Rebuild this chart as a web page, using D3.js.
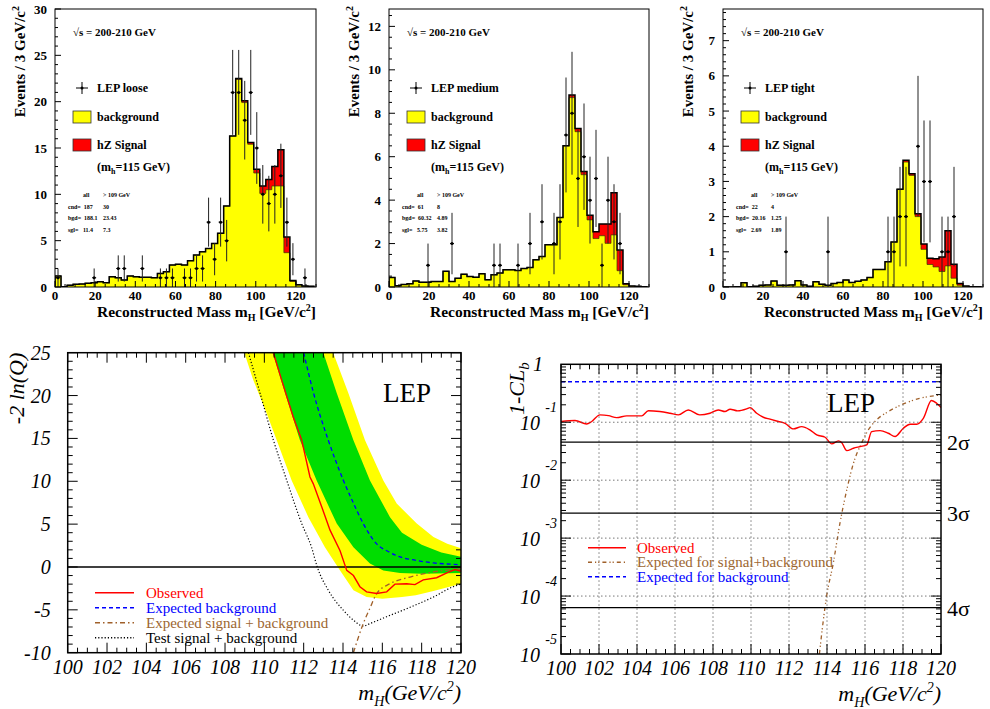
<!DOCTYPE html>
<html><head><meta charset="utf-8">
<script src="https://cdn.jsdelivr.net/npm/d3@7"></script>
<style>
body{margin:0;background:#fff;}
svg{display:block;}
text{font-family:"Liberation Serif","Times New Roman",serif;}
</style></head><body>
<svg id="c" width="990" height="709"></svg>
<script>
// ---------- DATA: top histograms (3 GeV bins) ----------
const binEdges = [0,3,6,9,12,15,18,21,24,27,30,33,36,39,42,45,48,51,54,57,60,63,66,69,72,75,78,81,84,87,90,93,96,99,102,105,108,111,114,117,120,123,126,129];

const looseTotal = [1.2,0.03,0.2,0.29,0.32,0.4,0.47,0.58,0.47,1.1,1.0,0.76,1.19,1.1,1.04,1.04,1.0,1.47,1.65,2.37,2.45,2.37,2.84,3.45,3.8,4.15,4.7,5.8,8.75,16.3,22.5,20.1,15.6,12.7,10.9,11.6,13.0,14.8,5.4,0.7,0.25,0.12,0.08];
const looseBkg   = [1.2,0.03,0.2,0.29,0.32,0.4,0.47,0.58,0.47,1.1,1.0,0.76,1.19,1.1,1.04,1.04,1.0,1.47,1.65,2.37,2.45,2.37,2.84,3.45,3.8,4.15,4.7,5.8,8.75,16.3,22.4,19.9,15.4,12.3,10.1,10.5,10.9,10.9,3.7,0.6,0.22,0.1,0.07];
const looseData  = [1,0,0,0,0,0,1,0,0,0,2,2,0,0,2,0,0,1,1,1,0,1,1,2,2,7,3,7,5,21,21,18,21,15,10,9,10,12,7,3,0,1,0];

const mediumTotal = [0.44,0.06,0.12,0.15,0.28,0.22,0.22,0.25,0.25,0.72,0.25,0.4,0.59,0.48,0.45,0.61,0.33,0.56,0.64,0.79,0.79,0.76,0.85,0.9,1.25,1.4,1.95,1.95,3.2,6.5,8.84,7.3,5.32,3.3,2.54,2.9,2.9,4.34,1.7,0.15,0.05,0.03,0.01];
const mediumBkg   = [0.44,0.06,0.12,0.15,0.28,0.22,0.22,0.25,0.25,0.72,0.25,0.4,0.59,0.48,0.45,0.61,0.33,0.56,0.64,0.79,0.79,0.76,0.85,0.9,1.25,1.4,1.95,1.95,3.2,6.5,8.72,7.15,5.17,3.09,2.23,2.36,2.01,2.4,0.75,0.1,0.04,0.02,0.01];
const mediumData  = [0,0,0,0,0,0,1,0,0,0,2,0,0,0,0,0,0,1,1,0,0,1,0,2,0,3,0,2,3,7,8,5,6,4,5,1,4,3,2,0,0,0,0];

const tightTotal = [0,0,0.01,0.12,0.01,0.02,0.05,0.06,0.17,0.05,0.05,0.06,0.18,0.06,0.02,0.15,0.08,0.05,0.1,0.13,0.2,0.13,0.16,0.2,0.27,0.5,0.5,0.72,1.28,2.78,3.6,3.22,2.08,1.22,0.82,0.8,0.85,1.6,0.65,0.1,0.03,0.01,0.01];
const tightBkg   = [0,0,0.01,0.12,0.01,0.02,0.05,0.06,0.17,0.05,0.05,0.06,0.18,0.06,0.02,0.15,0.08,0.05,0.1,0.13,0.2,0.13,0.16,0.2,0.27,0.5,0.5,0.72,1.28,2.78,3.55,3.17,2.0,1.07,0.64,0.57,0.44,0.6,0.25,0.05,0.02,0.01,0.01];
const tightData  = [0,0,0,0,0,0,0,0,0,0,1,0,0,0,0,0,0,1,0,0,0,0,0,0,0,0,0,1,1,2,2,0,4,3,3,0,1,1,2,0,0,0,0];

const histTickLabelsX = [0,20,40,60,80,100,120];
const looseTable  = [["all","> 109 GeV"],["cnd=  187","30"],["bgd=  188.1","23.43"],["sgl=   11.4","7.3"]];
const mediumTable = [["all","> 109 GeV"],["cnd=  61","8"],["bgd=  60.32","4.89"],["sgl=   5.75","3.82"]];
const tightTable  = [["all","> 109 GeV"],["cnd=  22","4"],["bgd=  20.16","1.25"],["sgl=   2.69","1.89"]];

// ---------- DATA: -2 ln(Q) ----------
const obsMass = [110.46,110.88,111.47,111.9,112.32,112.49,112.92,113.34,113.85,114.19,114.53,114.86,115.2,115.71,116.22,116.64,117.24,117.66,118.08,118.76,119.36,119.7,120];
const obsLnQ  = [25,21.8,17.5,14.8,10.5,9.7,7.0,4.3,1.9,-0.4,-1.0,-2.3,-2.9,-3.1,-2.9,-2.0,-1.95,-2.06,-1.5,-1.25,-0.6,-0.3,-0.5];
const bkgMass = [112.0,112.5,113.25,114.02,114.5,115.03,115.71,116.3,116.9,117.7,118.6,119.3,120];
const bkgLnQ  = [25,20.3,14.8,10.1,7.6,5.06,2.7,1.8,1.17,0.78,0.47,0.35,0.27];
const sbMass  = [114.53,115.03,115.39,115.71,116.39,117.41,118.6,120];
const sbLnQ   = [-10,-6.6,-4.7,-3.1,-1.95,-1.17,-0.58,-0.2];
const testMass= [109.19,109.78,110.46,111.14,111.9,112.4,112.69,113.25,114.02,114.53,115.03,115.37,116.22,117.41,118.6,119.6,120];
const testLnQ = [25,20.3,14.8,10.1,5.06,2.3,0,-2.7,-5.06,-6.2,-6.9,-6.6,-5.8,-4.7,-3.5,-2.3,-2.0];
const y2LoMass = [108.98,109.44,110.12,110.63,111.39,112.24,113.08,113.85,114.53,115.2,116.0,117.0,117.7,118.6,120];
const y2LoVal  = [25,21.8,17.9,14.8,10.1,5.8,2.3,-0.4,-2.7,-3.5,-3.7,-3.5,-3.3,-2.8,-1.95];
const y2HiMass = [113.5,114.27,115.12,116.05,116.73,117.75,118.6,119.3,120];
const y2HiVal  = [25,20.3,14.8,10.1,7.4,5.06,3.5,2.7,2.2];
const g1LoMass = [110.42,111.05,111.81,112.66,113.68,114.53,115.37,116.05,116.9,118.0,120];
const g1LoVal  = [25,20.3,14.8,10.1,5.06,2.3,0.4,-0.4,-0.7,-0.78,-0.7];
const g1HiMass = [113.0,113.68,114.53,115.37,116.39,117.0,118.0,119.0,120];
const g1HiVal  = [25,20.3,14.8,10.1,5.8,4.0,2.6,1.7,1.2];
const lnqTickX = [100,102,104,106,108,110,112,114,116,118,120];
const lnqTickY = [-10,-5,0,5,10,15,20,25];

// ---------- DATA: 1-CLb ----------
const clbObsMass = [100,100.74,101.35,101.6,102.05,102.5,102.93,103.46,104.25,104.6,105.2,105.74,106.18,106.7,107.3,107.84,108.28,108.63,108.9,109.3,109.77,109.95,110.3,110.65,111.0,111.44,111.79,112.23,112.67,113.1,113.46,113.9,114.25,114.6,114.77,115.04,115.39,115.74,116.09,116.35,116.79,117.23,117.58,118.02,118.37,118.72,119.07,119.5,119.77,120];
const clbObs     = [0.103,0.107,0.0935,0.102,0.134,0.130,0.120,0.129,0.129,0.158,0.153,0.143,0.134,0.163,0.134,0.143,0.163,0.153,0.168,0.157,0.170,0.179,0.143,0.122,0.113,0.103,0.096,0.0767,0.0841,0.0738,0.0605,0.0551,0.0423,0.0476,0.0446,0.0324,0.0356,0.038,0.0406,0.069,0.0718,0.0646,0.0566,0.0789,0.0925,0.0925,0.117,0.237,0.213,0.179];
const clbSbMass  = [113.6,113.98,114.33,114.68,115.04,115.39,115.82,116.18,116.61,117.23,118.02,118.9,120];
const clbSb      = [1e-5,1e-4,3.7e-4,1.8e-3,6.8e-3,0.0195,0.0437,0.0741,0.110,0.153,0.207,0.259,0.296];
const clbBkgMass = [100,120];
const clbBkg     = [0.5,0.5];
const sigmaLevels = [0.0455,0.0027,6.33e-5];
const sigmaLabels = ["2σ","3σ","4σ"];
const clbDecades = [1,1e-1,1e-2,1e-3,1e-4,1e-5];
const clbExpLabels = ["","-1","-2","-3","-4","-5"];

// ---------- DRAW ----------
const svg = d3.select("#c");
const defs = svg.append("defs");

function clip(id, x0, y0, x1, y1) {
  defs.append("clipPath").attr("id", id).append("rect")
    .attr("x", x0).attr("y", y0).attr("width", x1 - x0).attr("height", y1 - y0);
  return `url(#${id})`;
}

function histPanel(cfg) {
  const {x0, x1, yTop, yBot, ymax, yMajor, yMinor, total, bkg, data, label, table, name} = cfg;
  const x = d3.scaleLinear([0, 130], [x0, x1]);
  const y = d3.scaleLinear([0, ymax], [yBot, yTop]);
  const g = svg.append("g");
  const cp = clip("clip" + name, x0, yTop, x1, yBot);
  const last = binEdges[binEdges.length - 1];
  const pts = v => { const p = v.map((d, i) => [binEdges[i], d]); p.push([last, v[v.length - 1]]); return p; };
  const area = d3.area().x(d => x(d[0])).y0(y(0)).y1(d => y(d[1])).curve(d3.curveStepAfter);
  const line = d3.line().x(d => x(d[0])).y(d => y(d[1])).curve(d3.curveStepAfter);
  const cg = g.append("g").attr("clip-path", cp);
  cg.append("path").attr("d", area(pts(total))).attr("fill", "#ff0000");
  cg.append("path").attr("d", area(pts(bkg))).attr("fill", "#ffff00");
  cg.append("path").attr("d", line([[0, 0], ...pts(bkg), [last, 0]])).attr("fill", "none").attr("stroke", "#3a3a00").attr("stroke-width", 0.7);
  cg.append("path").attr("d", line([[0, 0], ...pts(total), [last, 0]])).attr("fill", "none").attr("stroke", "#000").attr("stroke-width", 1.5);
  // data points
  data.forEach((n, i) => {
    if (n <= 0) return;
    const c = (binEdges[i] + binEdges[i + 1]) / 2, e = Math.sqrt(n);
    cg.append("line").attr("x1", x(c)).attr("x2", x(c)).attr("y1", y(n - e)).attr("y2", y(n + e)).attr("stroke", "#222").attr("stroke-width", 1);
    cg.append("line").attr("x1", x(c - 1)).attr("x2", x(c + 1)).attr("y1", y(n)).attr("y2", y(n)).attr("stroke", "#000").attr("stroke-width", 1);
    cg.append("circle").attr("cx", x(c)).attr("cy", y(n)).attr("r", 1.5).attr("fill", "#000");
  });
  // frame
  g.append("rect").attr("x", x0).attr("y", yTop).attr("width", x1 - x0).attr("height", yBot - yTop).attr("fill", "none").attr("stroke", "#000").attr("stroke-width", 1);
  // y ticks
  for (let v = 0; v <= ymax + 1e-9; v += yMinor) {
    const maj = Math.abs(v / yMajor - Math.round(v / yMajor)) < 1e-6;
    g.append("line").attr("x1", x0).attr("x2", x0 + (maj ? 6 : 3)).attr("y1", y(v)).attr("y2", y(v)).attr("stroke", "#000");
    if (maj) g.append("text").attr("x", x0 - 8).attr("y", y(v) + 4.5).attr("text-anchor", "end")
      .attr("font-size", 13).attr("font-weight", "bold").text(+v.toFixed(2));
  }
  for (let v = 0; v <= 130; v += 5) {
    const maj = v % 20 === 0;
    g.append("line").attr("x1", x(v)).attr("x2", x(v)).attr("y1", yBot).attr("y2", yBot - (maj ? 6 : 3)).attr("stroke", "#000");
  }
  histTickLabelsX.forEach(v => g.append("text").attr("x", x(v)).attr("y", yBot + 13).attr("text-anchor", "middle")
    .attr("font-size", 13).attr("font-weight", "bold").text(v));
  // axis titles
  const yt = g.append("text").attr("transform", `translate(${x0 - 30},${yTop - 3}) rotate(-90)`).attr("text-anchor", "end")
    .attr("font-size", 15).attr("font-weight", "bold");
  yt.append("tspan").text("Events / 3 GeV/c");
  yt.append("tspan").attr("font-size", 10).attr("dy", -6).text("2");
  const xt = g.append("text").attr("x", x1).attr("y", yBot + 30).attr("text-anchor", "end").attr("font-size", 15.5).attr("font-weight", "bold");
  xt.append("tspan").text("Reconstructed Mass m");
  xt.append("tspan").attr("font-size", 10).attr("dy", 4).text("H");
  xt.append("tspan").attr("dy", -4).text(" [GeV/c");
  xt.append("tspan").attr("font-size", 10).attr("dy", -6).text("2");
  xt.append("tspan").attr("dy", 6).text("]");
  // annotations
  g.append("text").attr("x", x0 + 18).attr("y", yTop + 27).attr("font-size", 11).attr("font-weight", "bold").text("√s = 200-210 GeV");
  const cx = x0 + 27, cy = yTop + 79;
  g.append("line").attr("x1", cx).attr("x2", cx).attr("y1", cy - 6).attr("y2", cy + 6).attr("stroke", "#000");
  g.append("line").attr("x1", cx - 6).attr("x2", cx + 6).attr("y1", cy).attr("y2", cy).attr("stroke", "#000");
  g.append("circle").attr("cx", cx).attr("cy", cy).attr("r", 1.5);
  g.append("text").attr("x", x0 + 42).attr("y", cy + 4).attr("font-size", 12).attr("font-weight", "bold").text(label);
  g.append("rect").attr("x", x0 + 18).attr("y", yTop + 102).attr("width", 18).attr("height", 12).attr("fill", "#ffff00").attr("stroke", "#333").attr("stroke-width", 0.8);
  g.append("text").attr("x", x0 + 42).attr("y", yTop + 112).attr("font-size", 12).attr("font-weight", "bold").text("background");
  g.append("rect").attr("x", x0 + 18).attr("y", yTop + 130).attr("width", 18).attr("height", 12).attr("fill", "#ff0000").attr("stroke", "#333").attr("stroke-width", 0.8);
  g.append("text").attr("x", x0 + 42).attr("y", yTop + 140).attr("font-size", 12).attr("font-weight", "bold").text("hZ Signal");
  const mt = g.append("text").attr("x", x0 + 42).attr("y", yTop + 162).attr("font-size", 12).attr("font-weight", "bold");
  mt.append("tspan").text("(m");
  mt.append("tspan").attr("font-size", 8).attr("dy", 3).text("h");
  mt.append("tspan").attr("dy", -3).text("=115 GeV)");
  table.forEach((r, i) => {
    const ty = yTop + 188 + i * 11.5;
    g.append("text").attr("x", i === 0 ? x0 + 28 : x0 + 13).attr("y", ty).attr("font-size", 6).attr("font-weight", "bold").attr("xml:space", "preserve").text(r[0]);
    g.append("text").attr("x", x0 + 48).attr("y", ty).attr("font-size", 6).attr("font-weight", "bold").text(r[1]);
  });
}

histPanel({name: "l", x0: 55, x1: 316, yTop: 9, yBot: 287, ymax: 30, yMajor: 5, yMinor: 1, total: looseTotal, bkg: looseBkg, data: looseData, label: "LEP loose", table: looseTable});
histPanel({name: "m", x0: 389, x1: 649, yTop: 9, yBot: 287, ymax: 12.8, yMajor: 2, yMinor: 0.5, total: mediumTotal, bkg: mediumBkg, data: mediumData, label: "LEP medium", table: mediumTable});
histPanel({name: "t", x0: 723, x1: 983, yTop: 9, yBot: 287, ymax: 7.9, yMajor: 1, yMinor: 0.2, total: tightTotal, bkg: tightBkg, data: tightData, label: "LEP tight", table: tightTable});

// ---------- -2 ln(Q) panel ----------
(function () {
  const X0 = 67.7, X1 = 461, Y0 = 352.7, Y1 = 652.7;
  const x = d3.scaleLinear([100, 120], [X0, X1]);
  const y = d3.scaleLinear([-10, 25], [Y1, Y0]);
  const g = svg.append("g");
  const cg = g.append("g").attr("clip-path", clip("clipL", X0, Y0, X1, Y1));
  const zip = (m, v) => m.map((d, i) => [d, v[i]]);
  const ln = d3.line().x(d => x(d[0])).y(d => y(d[1])).curve(d3.curveLinear);
  const band = (lm, lv, hm, hv) => ln([...zip(lm, lv), ...zip(hm, hv).reverse()]) + "Z";
  cg.append("path").attr("d", band(y2LoMass, y2LoVal, y2HiMass, y2HiVal)).attr("fill", "#ffff00");
  cg.append("path").attr("d", band(g1LoMass, g1LoVal, g1HiMass, g1HiVal)).attr("fill", "#00dd00");
  cg.append("line").attr("x1", X0).attr("x2", X1).attr("y1", y(0)).attr("y2", y(0)).attr("stroke", "#000").attr("stroke-width", 1.5);
  const sm = d3.line().x(d => x(d[0])).y(d => y(d[1])).curve(d3.curveMonotoneX);
  cg.append("path").attr("d", sm(zip(testMass, testLnQ))).attr("fill", "none").attr("stroke", "#000").attr("stroke-width", 1.2).attr("stroke-dasharray", "1.2,2");
  cg.append("path").attr("d", sm(zip(sbMass, sbLnQ))).attr("fill", "none").attr("stroke", "#a0602a").attr("stroke-width", 1.3).attr("stroke-dasharray", "5,3,1.5,3");
  cg.append("path").attr("d", sm(zip(bkgMass, bkgLnQ))).attr("fill", "none").attr("stroke", "#0000ff").attr("stroke-width", 1.3).attr("stroke-dasharray", "4,3");
  cg.append("path").attr("d", ln(zip(obsMass, obsLnQ))).attr("fill", "none").attr("stroke", "#ff0000").attr("stroke-width", 1.4);
  g.append("rect").attr("x", X0).attr("y", Y0).attr("width", X1 - X0).attr("height", Y1 - Y0).attr("fill", "none").attr("stroke", "#000").attr("stroke-width", 1.5);
  for (let v = -10; v <= 25; v += 1) {
    const L = v % 5 === 0 ? 10 : 5;
    g.append("line").attr("x1", X0).attr("x2", X0 + L).attr("y1", y(v)).attr("y2", y(v)).attr("stroke", "#000");
    g.append("line").attr("x1", X1).attr("x2", X1 - L).attr("y1", y(v)).attr("y2", y(v)).attr("stroke", "#000");
  }
  for (let v = 100; v <= 120.001; v += 0.5) {
    const L = Math.abs(v / 2 - Math.round(v / 2)) < 1e-6 ? 10 : 5;
    g.append("line").attr("x1", x(v)).attr("x2", x(v)).attr("y1", Y1).attr("y2", Y1 - L).attr("stroke", "#000");
    g.append("line").attr("x1", x(v)).attr("x2", x(v)).attr("y1", Y0).attr("y2", Y0 + L).attr("stroke", "#000");
  }
  lnqTickY.forEach(v => g.append("text").attr("x", X0 - 17).attr("y", y(v) + 7).attr("text-anchor", "end").attr("font-size", 20).attr("font-style", "italic").text(v));
  lnqTickX.forEach(v => g.append("text").attr("x", x(v)).attr("y", 674).attr("text-anchor", "middle").attr("font-size", 20).attr("font-style", "italic").text(v));
  g.append("text").attr("transform", `translate(24,${Y0}) rotate(-90)`).attr("text-anchor", "end").attr("font-size", 22).attr("font-style", "italic").text("-2 ln(Q)");
  const xt = g.append("text").attr("x", X1).attr("y", 700).attr("text-anchor", "end").attr("font-size", 22).attr("font-style", "italic");
  xt.append("tspan").text("m"); xt.append("tspan").attr("font-size", 14).attr("dy", 6).text("H");
  xt.append("tspan").attr("dy", -6).text("(GeV/c"); xt.append("tspan").attr("font-size", 14).attr("dy", -9).text("2");
  xt.append("tspan").attr("dy", 9).text(")");
  g.append("text").attr("x", 383).attr("y", 402).attr("font-size", 27).text("LEP");
  const leg = [["Observed", "#ff0000", null, "#ff0000"], ["Expected background", "#0000ff", "4,3", "#0000ff"],
               ["Expected signal + background", "#a0602a", "5,3,1.5,3", "#9c6630"], ["Test signal + background", "#000", "1.2,2", "#000"]];
  leg.forEach((l, i) => {
    const ly = 592.7 + i * 15;
    g.append("line").attr("x1", 95).attr("x2", 134).attr("y1", ly).attr("y2", ly).attr("stroke", l[1]).attr("stroke-width", 1.4).attr("stroke-dasharray", l[2]);
    g.append("text").attr("x", 146).attr("y", ly + 5).attr("font-size", 15).attr("fill", l[3]).text(l[0]);
  });
})();

// ---------- 1-CLb panel ----------
(function () {
  const X0 = 561, X1 = 941, Y0 = 364.3, Y1 = 654;
  const x = d3.scaleLinear([100, 120], [X0, X1]);
  const y = d3.scaleLog([1e-5, 1], [Y1, Y0]);
  const g = svg.append("g");
  const cg = g.append("g").attr("clip-path", clip("clipR", X0, Y0, X1, Y1));
  const zip = (m, v) => m.map((d, i) => [d, v[i]]);
  for (let v = 102; v <= 118; v += 2)
    g.append("line").attr("x1", x(v)).attr("x2", x(v)).attr("y1", Y0).attr("y2", Y1).attr("stroke", "#555").attr("stroke-width", 0.8).attr("stroke-dasharray", "1.5,2.5");
  clbDecades.slice(1, 5).forEach(v =>
    g.append("line").attr("x1", X0).attr("x2", X1).attr("y1", y(v)).attr("y2", y(v)).attr("stroke", "#555").attr("stroke-width", 0.8).attr("stroke-dasharray", "1.5,2.5"));
  sigmaLevels.forEach((s, i) => {
    g.append("line").attr("x1", X0).attr("x2", X1).attr("y1", y(s)).attr("y2", y(s)).attr("stroke", "#000").attr("stroke-width", 1.3);
    g.append("text").attr("x", 947).attr("y", y(s) + 8).attr("font-size", 22).text(sigmaLabels[i]);
  });
  const ln = d3.line().x(d => x(d[0])).y(d => y(d[1]));
  const sm = d3.line().x(d => x(d[0])).y(d => y(d[1])).curve(d3.curveMonotoneX);
  cg.append("path").attr("d", ln(zip(clbBkgMass, clbBkg))).attr("fill", "none").attr("stroke", "#0000ff").attr("stroke-width", 1.3).attr("stroke-dasharray", "4,3");
  cg.append("path").attr("d", sm(zip(clbSbMass, clbSb))).attr("fill", "none").attr("stroke", "#a0602a").attr("stroke-width", 1.3).attr("stroke-dasharray", "4,3,1.2,2,1.2,3");
  cg.append("path").attr("d", sm(zip(clbObsMass, clbObs))).attr("fill", "none").attr("stroke", "#ff0000").attr("stroke-width", 1.4);
  g.append("rect").attr("x", X0).attr("y", Y0).attr("width", X1 - X0).attr("height", Y1 - Y0).attr("fill", "none").attr("stroke", "#000").attr("stroke-width", 1.5);
  for (let e = -5; e < 0; e++) {
    for (let k = 1; k <= 9; k++) {
      const v = k * Math.pow(10, e), L = k === 1 ? 10 : 5;
      g.append("line").attr("x1", X0).attr("x2", X0 + L).attr("y1", y(v)).attr("y2", y(v)).attr("stroke", "#000");
      g.append("line").attr("x1", X1).attr("x2", X1 - L).attr("y1", y(v)).attr("y2", y(v)).attr("stroke", "#000");
    }
  }
  for (let v = 100; v <= 120.001; v += 0.5) {
    const L = Math.abs(v / 2 - Math.round(v / 2)) < 1e-6 ? 10 : 5;
    g.append("line").attr("x1", x(v)).attr("x2", x(v)).attr("y1", Y1).attr("y2", Y1 - L).attr("stroke", "#000");
    g.append("line").attr("x1", x(v)).attr("x2", x(v)).attr("y1", Y0).attr("y2", Y0 + L).attr("stroke", "#000");
  }
  clbDecades.forEach((v, i) => {
    if (i === 0) { g.append("text").attr("x", 543).attr("y", y(v) + 7).attr("text-anchor", "end").attr("font-size", 20).attr("font-style", "italic").text("1"); return; }
    g.append("text").attr("x", 540).attr("y", y(v) + 8).attr("text-anchor", "end").attr("font-size", 20).attr("font-style", "italic").text("10");
    g.append("text").attr("x", 557).attr("y", y(v) - 10).attr("text-anchor", "end").attr("font-size", 14).attr("font-style", "italic").text(clbExpLabels[i]);
  });
  lnqTickX.forEach(v => g.append("text").attr("x", x(v)).attr("y", 675).attr("text-anchor", "middle").attr("font-size", 20).attr("font-style", "italic").text(v));
  const yt = g.append("text").attr("transform", `translate(524,${Y0 - 2}) rotate(-90)`).attr("text-anchor", "end").attr("font-size", 22).attr("font-style", "italic");
  yt.append("tspan").text("1-CL"); yt.append("tspan").attr("font-size", 15).attr("dy", 5).text("b");
  const xt = g.append("text").attr("x", X1).attr("y", 701).attr("text-anchor", "end").attr("font-size", 22).attr("font-style", "italic");
  xt.append("tspan").text("m"); xt.append("tspan").attr("font-size", 14).attr("dy", 6).text("H");
  xt.append("tspan").attr("dy", -6).text("(GeV/c"); xt.append("tspan").attr("font-size", 14).attr("dy", -9).text("2");
  xt.append("tspan").attr("dy", 9).text(")");
  g.append("text").attr("x", 827).attr("y", 412).attr("font-size", 27).text("LEP");
  const leg = [["Observed", "#ff0000", null, "#ff0000"], ["Expected for signal+background", "#a0602a", "4,3,1.2,2,1.2,3", "#9c6630"], ["Expected for background", "#0000ff", "4,3", "#0000ff"]];
  leg.forEach((l, i) => {
    const ly = 547.7 + i * 14.5;
    g.append("line").attr("x1", 588).attr("x2", 626).attr("y1", ly).attr("y2", ly).attr("stroke", l[1]).attr("stroke-width", 1.4).attr("stroke-dasharray", l[2]);
    g.append("text").attr("x", 637).attr("y", ly + 5).attr("font-size", 15).attr("fill", l[3]).text(l[0]);
  });
})();
</script>
</body></html>
